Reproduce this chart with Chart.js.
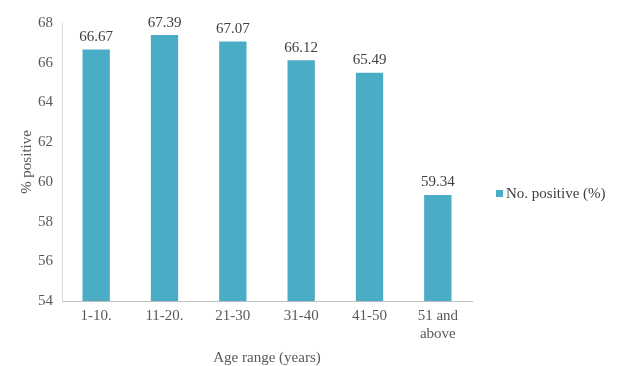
<!DOCTYPE html>
<html>
<head>
<meta charset="utf-8">
<script src="https://cdn.jsdelivr.net/npm/chart.js@4"></script>
<style>
  html, body { margin: 0; padding: 0; background: #fff; }
  #wrap { position: relative; width: 617px; height: 366px; }
  #legend {
    position: absolute; left: 496px; top: 185px;
    font-family: "Liberation Serif", serif; font-size: 15px; color: #404040;
    display: flex; align-items: center; white-space: nowrap;
  }
  #legend span.box { display: inline-block; width: 7px; height: 7px; margin-right: 3px; }
</style>
</head>
<body>
<div id="wrap">
  <canvas id="chart" width="617" height="366"></canvas>
  <div id="legend"></div>
</div>
<script>
const ageRanges = ["1-10.", "11-20.", "21-30", "31-40", "41-50", ["51 and", "above"]];
const positivePct = [66.67, 67.39, 67.07, 66.12, 65.49, 59.34];
const seriesLabel = "No. positive (%)";
const barColor = "#4BACC6";
const serif = "'Liberation Serif', 'Times New Roman', serif";

// value labels above each bar
const valueLabels = {
  id: "valueLabels",
  afterDatasetsDraw(chart) {
    const ctx = chart.ctx;
    const meta = chart.getDatasetMeta(0);
    ctx.save();
    ctx.font = "15px " + serif;
    ctx.fillStyle = "#404040";
    ctx.textAlign = "center";
    ctx.textBaseline = "bottom";
    meta.data.forEach((bar, i) => {
      ctx.fillText(positivePct[i].toFixed(2), bar.x, bar.y - 5);
    });
    ctx.restore();
  },
};

new Chart(document.getElementById("chart"), {
  type: "bar",
  data: {
    labels: ageRanges,
    datasets: [{
      label: seriesLabel,
      data: positivePct,
      backgroundColor: barColor,
      categoryPercentage: 1,
      barPercentage: 0.4,
    }],
  },
  options: {
    responsive: false,
    animation: false,
    layout: {padding: {top: 23, right: 145, left: 14, bottom: 0}},
    plugins: {
      legend: {display: false},
      tooltip: {enabled: false},
    },
    scales: {
      x: {
        grid: {display: false, drawTicks: false},
        border: {color: "#bfbfbf", width: 1},
        ticks: {
          font: {family: serif, size: 15},
          color: "#595959",
          padding: 6,
          maxRotation: 0,
          autoSkip: false,
        },
        title: {
          display: true,
          text: "Age range (years)",
          font: {family: serif, size: 15},
          color: "#595959",
          padding: {top: 0, bottom: -1},
        },
        afterFit(scale) { scale.height = 65; },
      },
      y: {
        min: 54,
        max: 68,
        grid: {display: false, drawTicks: false},
        border: {color: "#d9d9d9", width: 1},
        ticks: {
          stepSize: 2,
          font: {family: serif, size: 15},
          color: "#595959",
          padding: 9,
        },
        title: {
          display: true,
          text: "% positive",
          font: {family: serif, size: 15},
          color: "#595959",
          padding: {bottom: 2},
        },
        afterFit(scale) { scale.width = 48; },
      },
    },
  },
  plugins: [valueLabels],
});

document.getElementById("legend").innerHTML =
  `<span class="box" style="background:${barColor}"></span>${seriesLabel}`;
</script>
</body>
</html>
